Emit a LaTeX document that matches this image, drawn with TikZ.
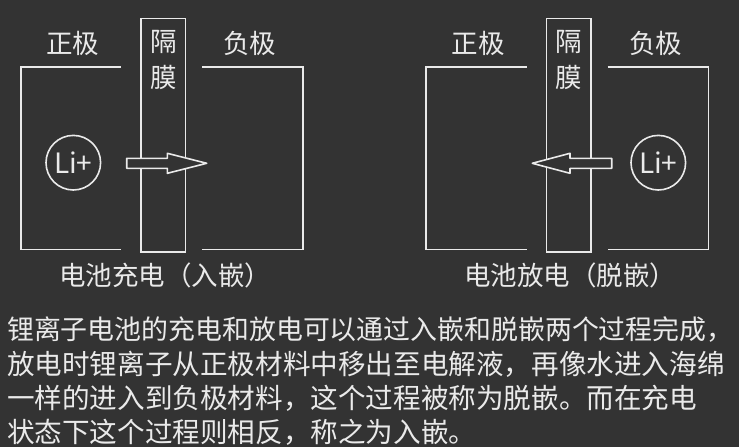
\documentclass[tikz,border=0pt]{standalone}
\usepackage{fontspec}
\setmainfont{Noto Sans CJK SC}
\definecolor{bg}{HTML}{333333}
\definecolor{fg}{HTML}{EAEAEA}
\tikzset{
  elec/.style={draw=fg, line width=1.6pt},
  sepbox/.style={draw=fg, line width=1.6pt, minimum width=44.5pt, minimum height=233.4pt, inner sep=0pt},
  lbl/.style={text=fg, inner sep=0pt, font=\fontsize{26.5}{35}\selectfont},
  ion/.style={circle, draw=fg, line width=1.6pt, minimum size=54.6pt, inner sep=0pt, text=fg, font=\fontsize{28}{30}\selectfont},
  movearrow/.style={draw=fg, fill=bg, line width=1.6pt, line join=round},
  para/.style={text=fg, anchor=west, inner sep=0pt, font=\fontsize{27.6}{34}\selectfont}
}
\begin{document}
\begin{tikzpicture}[x=1pt,y=-1pt]
\fill[bg] (0,0) rectangle (739,447);
\useasboundingbox (0,0) rectangle (739,447);

% ---------- left: charging ----------
\draw[elec] (121,66.7) -- (20.7,66.7) -- (20.7,249.3) -- (121,249.3);
\draw[elec] (202.3,66.7) -- (302.7,66.7) -- (302.7,249.3) -- (202.3,249.3);
\node[sepbox] (sepL) at (163.35,135) {};
\node[lbl] (geL) at (163.35,42) {隔};
\node[lbl] (moL) at (163.35,77) {膜};
\node[lbl] (posL) at (72.5,43.3) {正极};
\node[lbl] (negL) at (249.7,43.3) {负极};
\node[ion] (ionL) at (73.3,162.7) {Li+};
\draw[movearrow] (126.7,158.3) -- (167.3,158.3) -- (167.3,153.3) -- (206.7,163.3)
  -- (167.3,173.3) -- (167.3,168.3) -- (126.7,168.3) -- cycle;
\node[lbl] (capL) at (165,275) {电池充电（入嵌）};

% ---------- right: discharging ----------
\draw[elec] (526.7,66.7) -- (426,66.7) -- (426,249.3) -- (526.7,249.3);
\draw[elec] (607.7,66.7) -- (708.3,66.7) -- (708.3,249.3) -- (607.7,249.3);
\node[sepbox] (sepR) at (568.85,135) {};
\node[lbl] (geR) at (568.85,42) {隔};
\node[lbl] (moR) at (568.85,77) {膜};
\node[lbl] (posR) at (478.2,43.3) {正极};
\node[lbl] (negR) at (655.5,43.3) {负极};
\node[ion] (ionR) at (658.3,162.7) {Li+};
\draw[movearrow] (611.7,158.3) -- (570,158.3) -- (570,153.3) -- (532.3,163.3)
  -- (570,173.3) -- (570,168.3) -- (611.7,168.3) -- cycle;
\node[lbl] (capR) at (570.2,275) {电池放电（脱嵌）};

% ---------- paragraph ----------
\node[para, font=\fontsize{26.9}{34}\selectfont] (l1) at (7,330) {锂离子电池的充电和放电可以通过入嵌和脱嵌两个过程完成，};
\node[para] (l2) at (7,364) {放电时锂离子从正极材料中移出至电解液，再像水进入海绵};
\node[para] (l3) at (7,398) {一样的进入到负极材料，这个过程被称为脱嵌。而在充电};
\node[para] (l4) at (7,432) {状态下这个过程则相反，称之为入嵌。};
\end{tikzpicture}
\end{document}
